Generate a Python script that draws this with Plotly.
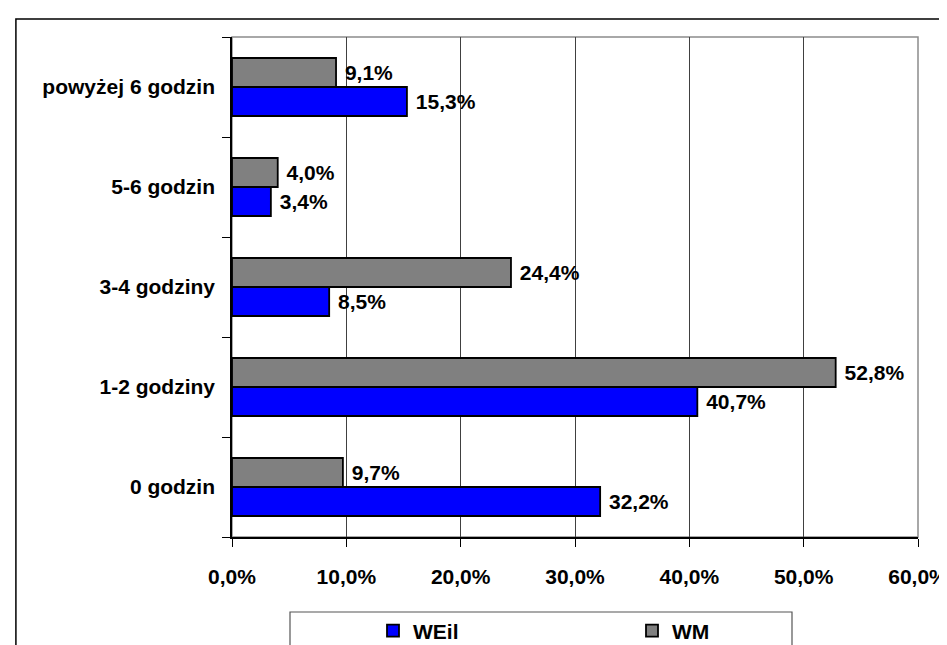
import plotly.graph_objects as go

# Categories bottom -> top, values in percent
categories = ["0 godzin", "1-2 godziny", "3-4 godziny", "5-6 godzin", "powyżej 6 godzin"]
weil_values = [32.2, 40.7, 8.5, 3.4, 15.3]
wm_values = [9.7, 52.8, 24.4, 4.0, 9.1]
x_ticks = [0, 10, 20, 30, 40, 50, 60]
x_tick_text = [f"{v:.1f}%".replace(".", ",") for v in x_ticks]

FONT = "Arial, Liberation Sans, sans-serif"
BOLD = dict(family=FONT, size=21, color="black", weight="bold")

fig = go.Figure()

fig.add_trace(go.Bar(
    y=categories, x=weil_values, name="WEil", orientation="h",
    marker=dict(color="#0000FF", line=dict(color="black", width=1.8)),
    text=weil_values, texttemplate=" %{x:.1f}%", textposition="outside",
    textfont=BOLD, constraintext="none", cliponaxis=False,
))
fig.add_trace(go.Bar(
    y=categories, x=wm_values, name="WM", orientation="h",
    marker=dict(color="#808080", line=dict(color="black", width=1.8)),
    text=wm_values, texttemplate=" %{x:.1f}%", textposition="outside",
    textfont=BOLD, constraintext="none", cliponaxis=False,
))

# plot area frame (grey) and outer chart border
fig.add_shape(type="rect", xref="paper", yref="paper", x0=0, x1=1, y0=0, y1=1,
              line=dict(color="#8c8c8c", width=1.5), layer="below")
fig.add_shape(type="rect", xref="paper", yref="paper",
              x0=-0.315, x1=1.08, y0=-0.27, y1=1.036,
              line=dict(color="black", width=1.5))
# legend frame
fig.add_shape(type="rect", xref="paper", yref="paper",
              x0=(282 - 224) / 686, x1=(784 - 224) / 686,
              y0=-0.27, y1=(529 - 604) / 500,
              line=dict(color="#555555", width=1.2))

fig.update_layout(
    width=947, height=645,
    margin=dict(l=224, r=37, t=29, b=116, autoexpand=False),
    paper_bgcolor="white", plot_bgcolor="white",
    barmode="group", bargap=0.42, bargroupgap=0,
    separators=", ",
    font=dict(family=FONT, color="black"),
    showlegend=True,
    legend=dict(
        orientation="h", x=(365 - 224) / 686, xanchor="left",
        y=(529 - 623) / 500, yanchor="middle",
        entrywidth=214, entrywidthmode="pixels",
        font=BOLD, bgcolor="rgba(0,0,0,0)", borderwidth=0,
    ),
    xaxis=dict(
        range=[0, 60], tickvals=x_ticks, ticktext=x_tick_text,
        showgrid=True, gridcolor="#404040", gridwidth=1,
        showline=True, linecolor="black", linewidth=1.5,
        ticks="outside", ticklen=8, tickcolor="black", tickwidth=1,
        tickfont=BOLD, ticklabelstandoff=12, zeroline=False, automargin=False,
    ),
    yaxis=dict(
        type="category", categoryorder="array", categoryarray=categories,
        showline=True, linecolor="black", linewidth=1.5,
        ticks="outside", ticklen=8, tickcolor="black", tickwidth=1,
        tickson="boundaries", tickfont=BOLD, ticklabelstandoff=11,
        showgrid=False, automargin=False,
    ),
)

fig.write_html("out.html")
